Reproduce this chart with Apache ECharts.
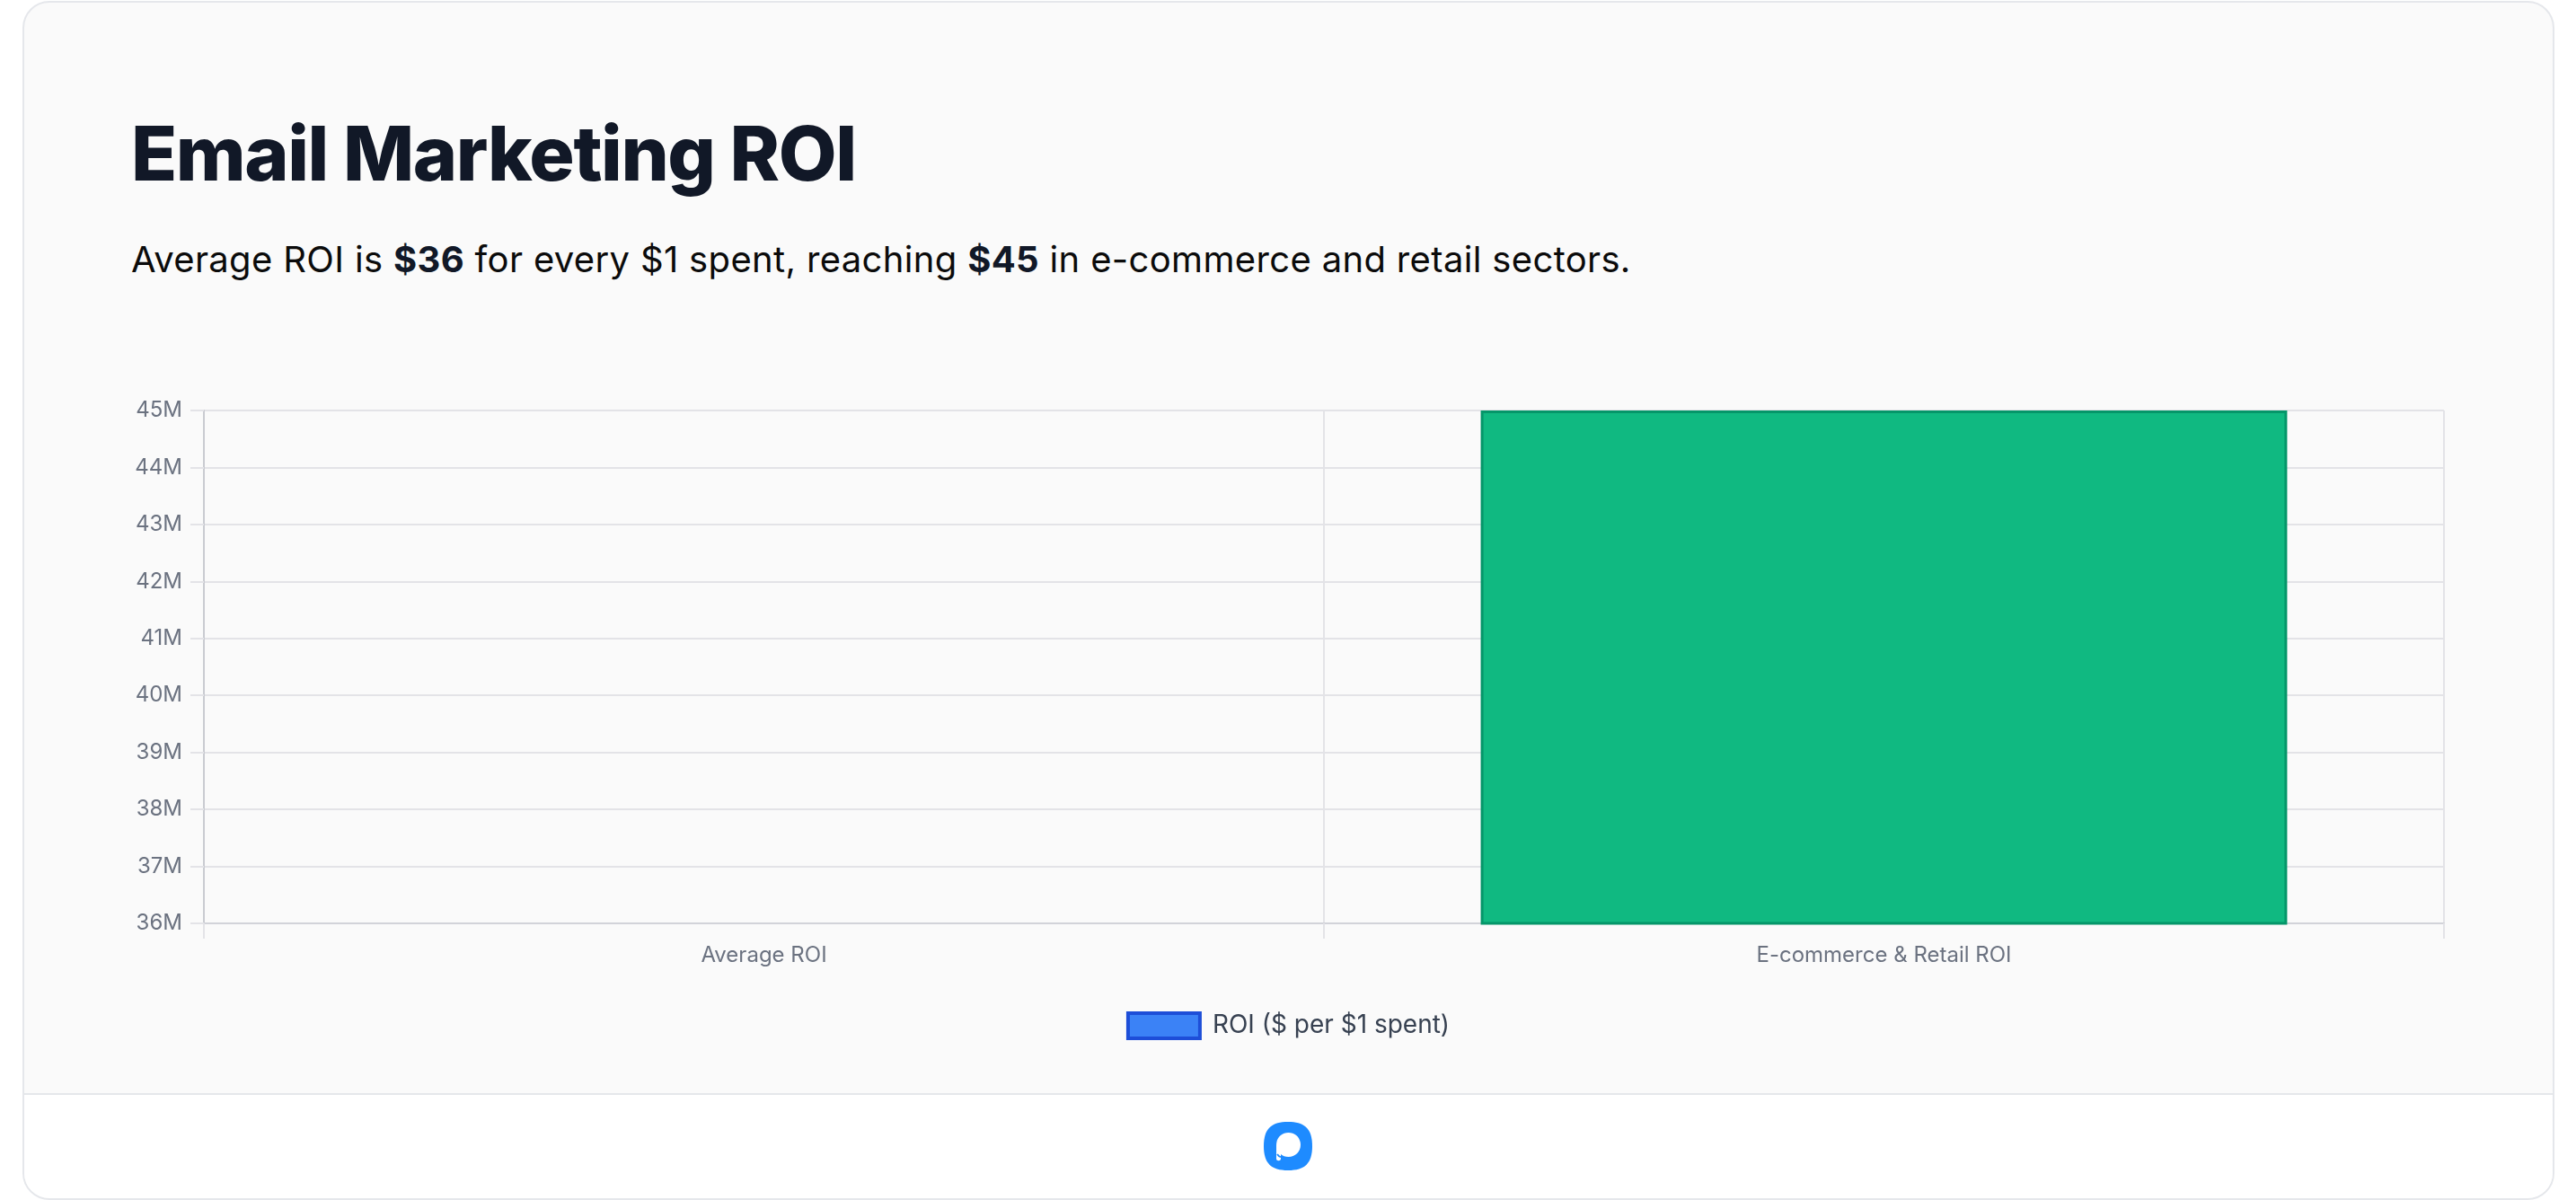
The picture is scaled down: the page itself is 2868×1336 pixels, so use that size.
<!DOCTYPE html>
<html>
<head>
<meta charset="utf-8">
<title>Email Marketing ROI</title>
<script src="https://cdn.jsdelivr.net/npm/echarts@6/dist/echarts.min.js"></script>
<style>
  html, body {
    margin: 0;
    padding: 0;
    width: 2868px;
    height: 1336px;
    background: #ffffff;
    font-family: Inter, "Noto Sans", sans-serif;
    overflow: hidden;
  }
  .card {
    position: absolute;
    left: 25px;
    top: 1px;
    width: 2815px;
    height: 1331px;
    border: 2px solid #e5e7eb;
    border-radius: 30px;
    background: #fafafa;
    overflow: hidden;
  }
  .footer {
    position: absolute;
    left: 0;
    right: 0;
    top: 1214px;
    bottom: 0;
    background: #ffffff;
    border-top: 2px solid #e5e7eb;
  }
  .title {
    position: absolute;
    left: 146px;
    top: 129px;
    margin: 0;
    font-size: 84px;
    line-height: 1;
    font-weight: 800;
    letter-spacing: -0.017em;
    color: #111827;
    white-space: nowrap;
  }
  .subtitle {
    position: absolute;
    left: 146px;
    top: 269px;
    margin: 0;
    font-size: 40px;
    line-height: 1;
    letter-spacing: 0.34px;
    color: #0b0b0b;
    white-space: nowrap;
  }
  .subtitle b {
    color: #111827;
    font-weight: 700;
  }
  #chart {
    position: absolute;
    left: 0;
    top: 0;
    width: 2868px;
    height: 1336px;
  }
  .logo {
    position: absolute;
    left: 1406px;
    top: 1248px;
    width: 56px;
    height: 56px;
  }
</style>
</head>
<body>
<div class="card">
  <div class="footer"></div>
</div>
<h1 class="title">Email Marketing ROI</h1>
<p class="subtitle">Average ROI is <b>$36</b> for every $1 spent, reaching <b>$45</b> in e-commerce and retail sectors.</p>
<svg class="logo" viewBox="0 0 56 56">
  <path d="M28 1 C47 1 55 9 55 28 C55 47 47 55 28 55 C9 55 1 47 1 28 C1 9 9 1 28 1 Z" fill="#1e8bff"/>
  <path d="M15 42 L15 27 C15 18.5 21 13 28.5 13 C36 13 42 18.5 42 26.5 C42 34.5 36 40 28.5 40 C25 40 22 39 20 37 L20 42 C20 45 15 45 15 42 Z" fill="#ffffff"/>
  <path d="M16 37 C17.5 39.5 20 40.5 22.5 40" stroke="#1e8bff" stroke-width="1.6" fill="none"/>
</svg>
<div id="chart"></div>

<script>
  // Chart data
  const categories = ['Average ROI', 'E-commerce & Retail ROI'];
  const roiValues = [36, 45];
  const seriesName = 'ROI ($ per $1 spent)';
  const yMin = 36; // Lowest tick (36M)
  const yMax = 45; // Highest tick (45M)
  const yStep = 1;

  const barColors = ['#3b82f6', '#10b981'];
  const barBorders = ['#b9c0d3', '#059669'];
  const gridColor = '#e3e3e7';

  const chart = echarts.init(document.getElementById('chart'), null, {renderer: 'canvas'});

  const option = {
    backgroundColor: 'transparent',
    animation: false,
    textStyle: {
      fontFamily: 'Inter, "Noto Sans", sans-serif',
    },
    grid: {
      left: 227,
      right: 147,
      top: 457,
      bottom: 308,
      containLabel: false,
    },
    legend: {
      top: 1126,
      left: 'center',
      padding: 0,
      itemWidth: 80,
      itemHeight: 28,
      icon: 'rect',
      data: [seriesName],
      itemStyle: {
        color: '#3b82f6',
        borderColor: '#1d4ed8',
        borderWidth: 4,
      },
      textStyle: {
        fontSize: 28,
        color: '#374151',
        padding: [0, 0, 0, 9],
      },
    },
    xAxis: {
      type: 'category',
      data: categories,
      boundaryGap: true,
      axisLine: {
        show: true,
        lineStyle: {color: '#d2d3d9', width: 2},
      },
      axisTick: {
        show: true,
        length: 17,
        lineStyle: {color: gridColor, width: 2},
      },
      splitLine: {
        show: true,
        lineStyle: {color: gridColor, width: 2},
      },
      axisLabel: {
        color: '#6b7280',
        fontSize: 24,
        margin: 24,
      },
    },
    yAxis: {
      type: 'value',
      min: yMin,
      max: yMax,
      interval: yStep,
      axisLine: {
        show: true,
        lineStyle: {color: '#c9cbd1', width: 2},
      },
      axisTick: {
        show: true,
        length: 15,
        lineStyle: {color: gridColor, width: 2},
      },
      splitLine: {
        show: true,
        lineStyle: {color: gridColor, width: 2},
      },
      axisLabel: {
        color: '#6b7280',
        fontSize: 24,
        margin: 24,
        formatter: (value) => `${value}M`,
      },
    },
    series: [
      {
        name: seriesName,
        type: 'bar',
        barWidth: '72%',
        itemStyle: {
          color: '#3b82f6',
          borderColor: '#1d4ed8',
          borderWidth: 3,
        },
        data: roiValues.map((value, i) => ({
          value: value,
          itemStyle: {
            color: barColors[i],
            borderColor: barBorders[i],
            borderWidth: i === 0 ? 2 : 3,
          },
        })),
      },
    ],
  };

  chart.setOption(option);
</script>
</body>
</html>
